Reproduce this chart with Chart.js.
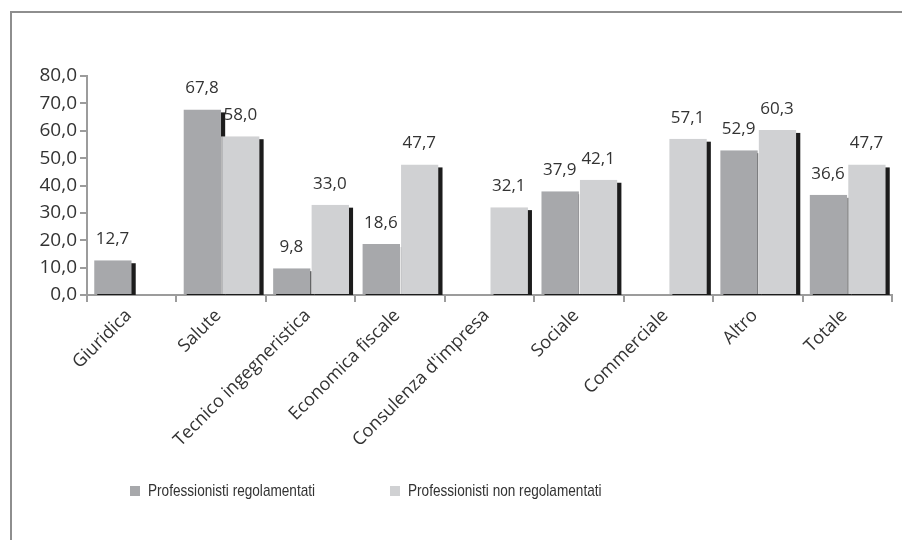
<!DOCTYPE html>
<html>
<head>
<meta charset="utf-8">
<script src="https://cdn.jsdelivr.net/npm/chart.js@4/dist/chart.umd.min.js"></script>
<style>
  html, body { margin: 0; padding: 0; background: #fff; }
  #wrap { position: relative; width: 902px; height: 540px; overflow: hidden; }
  #frame { position: absolute; left: 10px; top: 11px; width: 900px; height: 540px;
           border-top: 2px solid #8e8e8e; border-left: 2px solid #8e8e8e; box-sizing: border-box; }
  #chart { position: absolute; left: 0; top: 0; }
  .leg { position: absolute; top: 482px; font-family: "Liberation Sans", sans-serif;
         font-size: 17px; color: #333; white-space: nowrap; line-height: 18px; }
  .leg span { position: absolute; left: 0; top: 4px; width: 10px; height: 10px; }
  .leg b { font-weight: normal; position: absolute; left: 18px; top: 0;
           transform: scaleX(0.8); transform-origin: 0 0; }
</style>
</head>
<body>
<div id="wrap">
  <div id="frame"></div>
  <canvas id="chart" width="902" height="540"></canvas>
  <div class="leg" style="left:130px"><span style="background:#a7a8ab"></span><b>Professionisti regolamentati</b></div>
  <div class="leg" style="left:390px"><span style="background:#d0d1d3"></span><b>Professionisti non regolamentati</b></div>
</div>
<script>
// Dati
const categorie = ["Giuridica", "Salute", "Tecnico ingegneristica", "Economica fiscale",
  "Consulenza d'impresa", "Sociale", "Commerciale", "Altro", "Totale"];
const regolamentati = [12.7, 67.8, 9.8, 18.6, null, 37.9, null, 52.9, 36.6];
const nonRegolamentati = [null, 58.0, 33.0, 47.7, 32.1, 42.1, 57.1, 60.3, 47.7];
const tickValori = [0, 10, 20, 30, 40, 50, 60, 70, 80];

const fmt = v => v.toFixed(1).replace(".", ",");

// Ombre nere (prima di tutte le barre) ed etichette dei valori
const ombraPlugin = {
  id: "ombra",
  beforeDatasetsDraw(chart) {
    const ctx = chart.ctx;
    const area = chart.chartArea;
    ctx.save();
    ctx.beginPath();
    ctx.rect(area.left, area.top - 20, area.right - area.left, area.bottom - area.top + 20);
    ctx.clip();
    ctx.fillStyle = "#1c1c1c";
    chart.data.datasets.forEach((ds, di) => {
      chart.getDatasetMeta(di).data.forEach((bar, i) => {
        if (ds.data[i] == null) return;
        const p = bar.getProps(["x", "y", "base", "width"], true);
        ctx.fillRect(p.x - p.width / 2 + 4, p.y + 3, p.width, p.base - p.y);
      });
    });
    ctx.restore();
  },
  afterDatasetsDraw(chart) {
    const ctx = chart.ctx;
    ctx.save();
    ctx.font = "17px 'Open Sans'";
    ctx.fillStyle = "#333";
    ctx.textAlign = "center";
    ctx.textBaseline = "alphabetic";
    chart.data.datasets.forEach((ds, di) => {
      chart.getDatasetMeta(di).data.forEach((bar, i) => {
        const v = ds.data[i];
        if (v == null) return;
        ctx.fillText(fmt(v), bar.x, bar.y - 16);
      });
    });
    ctx.restore();
  }
};

const asseColore = "#9c9c9c";

new Chart(document.getElementById("chart"), {
  type: "bar",
  data: {
    labels: categorie,
    datasets: [
      {
        label: "Professionisti regolamentati",
        data: regolamentati,
        backgroundColor: "#a7a8ab",
        borderColor: "#ffffff",
        borderWidth: { top: 0, left: 1, right: 0, bottom: 0 },
        borderSkipped: false,
        categoryPercentage: 0.86,
        barPercentage: 1.0,
      },
      {
        label: "Professionisti non regolamentati",
        data: nonRegolamentati,
        backgroundColor: "#d0d1d3",
        borderColor: "#ffffff",
        borderWidth: { top: 0, left: 1, right: 0, bottom: 0 },
        borderSkipped: false,
        categoryPercentage: 0.86,
        barPercentage: 1.0,
      },
    ],
  },
  options: {
    responsive: false,
    animation: false,
    devicePixelRatio: 1,
    layout: { padding: { left: 0, right: 10, top: 76, bottom: 0 } },
    plugins: {
      legend: { display: false },
      tooltip: { enabled: false },
    },
    scales: {
      x: {
        offset: true,
        grid: {
          display: true,
          offset: true,
          drawOnChartArea: false,
          drawTicks: true,
          tickLength: 7,
          color: asseColore,
          lineWidth: 2,
        },
        border: { display: true, color: asseColore, width: 2 },
        ticks: {
          color: "#333",
          font: { family: "Open Sans", size: 18 },
          minRotation: 45,
          maxRotation: 45,
          padding: 3,
          labelOffset: -3,
          autoSkip: false,
        },
        afterFit(s) { s.height = 540 - 295; },
      },
      y: {
        min: 0,
        max: 80,
        afterBuildTicks(s) { s.ticks = tickValori.map(v => ({ value: v })); },
        grid: {
          display: true,
          drawOnChartArea: false,
          drawTicks: true,
          tickLength: 7,
          color: asseColore,
          lineWidth: 2,
        },
        border: { display: true, color: asseColore, width: 2 },
        ticks: {
          color: "#333",
          font: { family: "Open Sans", size: 19 },
          padding: 3,
          callback: v => fmt(v),
        },
        afterFit(s) { s.width = 87; },
      },
    },
  },
  plugins: [ombraPlugin],
});
</script>
</body>
</html>
